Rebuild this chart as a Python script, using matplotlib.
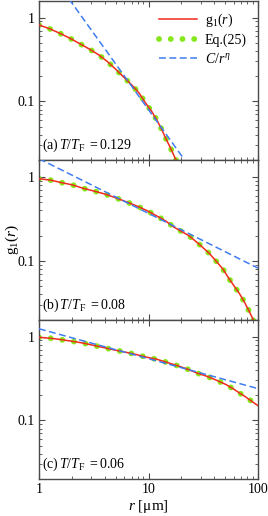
import numpy as np
import matplotlib
matplotlib.use("Agg")
import matplotlib.pyplot as plt
from matplotlib.ticker import LogLocator, NullFormatter

plt.rcParams['font.family'] = ['Liberation Serif', 'DejaVu Serif']
plt.rcParams['mathtext.fontset'] = 'custom'
plt.rcParams['mathtext.rm'] = 'Liberation Serif'
plt.rcParams['mathtext.it'] = 'Liberation Serif:italic'
plt.rcParams['mathtext.bf'] = 'Liberation Serif:bold'

# panel (a) T/TF = 0.129
r_a = [1.0, 1.26, 1.57, 1.92, 2.35, 2.86, 3.51, 4.21, 4.97, 5.89, 7.11, 8.24,
       9.35, 10.7, 12.0, 13.1, 14.4, 15.9, 17.7, 18.5]
g_a = [0.818, 0.733, 0.645, 0.567, 0.490, 0.424, 0.360, 0.299, 0.245, 0.197,
       0.155, 0.125, 0.0966, 0.0760, 0.0589, 0.0473, 0.0360, 0.0278, 0.0204, 0.0180]
C_a, eta_a, rmax_a = 5.27, 1.82, 20.5

# panel (b) T/TF = 0.08
r_b = [1.0, 1.28, 1.60, 2.0, 2.51, 3.13, 3.95, 4.84, 6.06, 7.74, 9.69, 11.96,
       14.5, 17.0, 23.4, 28.9, 35.9, 42.0, 47.9, 54.0, 61.6, 68.0, 75.0, 82.2,
       89.5, 92.0]
g_b = [0.957, 0.92, 0.86, 0.81, 0.738, 0.685, 0.631, 0.576, 0.516, 0.455,
       0.398, 0.343, 0.297, 0.254, 0.200, 0.159, 0.123, 0.0975, 0.0797, 0.0622,
       0.0486, 0.0404, 0.0324, 0.0258, 0.0205, 0.0185]
C_b, eta_b, rmax_b = 1.66, 0.653, 100

# panel (c) T/TF = 0.06
r_c = [1.0, 1.28, 1.6, 2.0, 2.5, 3.1, 3.8, 4.7, 5.9, 7.7, 9.6, 12.0, 14.4,
       18.7, 22.8, 28.3, 34.4, 42.2, 51.0, 60.4, 67.5, 76.1, 84.5, 92.5, 100]
g_c = [0.98, 0.955, 0.92, 0.88, 0.84, 0.79, 0.745, 0.70, 0.66, 0.612, 0.568,
       0.535, 0.497, 0.447, 0.408, 0.364, 0.335, 0.300, 0.268, 0.235, 0.213,
       0.193, 0.175, 0.161, 0.150]
C_c, eta_c, rmax_c = 1.24, 0.357, 100

panels = [("(a)", "0.129", r_a, g_a, C_a, eta_a, rmax_a),
          ("(b)", "0.08", r_b, g_b, C_b, eta_b, rmax_b),
          ("(c)", "0.06", r_c, g_c, C_c, eta_c, rmax_c)]

red = '#f02a1e'
green = '#86e81a'
blue = '#3f7cf0'
frame = '#4a4a4a'

fig = plt.figure(figsize=(2.68, 5.16), dpi=100)
left, right = 39 / 268, 258 / 268
top, bottom = 0.999, 1 - 479 / 516
h = (top - bottom) / 3

axes = []
for i, (lab, tt, r, g, C, eta, rmax) in enumerate(panels):
    ax = fig.add_axes([left, top - (i + 1) * h, right - left, h])
    axes.append(ax)
    ax.plot(r, g, color=green, lw=4.2, linestyle=(0, (0.01, 2.0)),
            dash_capstyle='round', zorder=2, label='Eq.(25)')
    ax.plot(r, g, color=red, lw=1.1, zorder=3, label=r'g$_1$($r$)')
    rr = np.array([1.0, rmax])
    ax.plot(rr, C / rr ** eta, color=blue, lw=1.1, linestyle=(0, (4.5, 2.3)),
            zorder=4, label=r'$C/r^\eta$')
    ax.set_xscale('log')
    ax.set_yscale('log')
    ax.set_xlim(1, 100)
    ax.set_ylim(0.02, 1.6)
    ax.set_yticks([0.1, 1])
    ax.set_yticklabels(['0.1', '1'])
    ax.yaxis.set_minor_locator(LogLocator(base=10, subs=np.arange(2, 10)))
    ax.yaxis.set_minor_formatter(NullFormatter())
    ax.set_xticks([1, 10, 100])
    ax.xaxis.set_minor_locator(LogLocator(base=10, subs=np.arange(2, 10)))
    ax.xaxis.set_minor_formatter(NullFormatter())
    if i < 2:
        ax.set_xticklabels([])
    else:
        ax.set_xticklabels(['1', '10', '100'])
    ax.tick_params(which='both', direction='in', top=True, right=True,
                   colors=frame, labelcolor='black', labelsize=10, pad=3)
    ax.tick_params(which='major', length=4, width=0.8)
    ax.tick_params(which='minor', length=2.2, width=0.6)
    for s in ax.spines.values():
        s.set_color(frame)
        s.set_linewidth(1.0)
    ax.text(0.012, 0.09, lab + r'$\,T/T_{\mathrm{F}}$ $=$' + tt,
            transform=ax.transAxes, fontsize=10, va='center', ha='left')

h_green, h_red, h_blue = axes[0].get_lines()
axes[0].legend([h_red, h_green, h_blue],
               [r'g$_1$($r$)', 'Eq.(25)', r'$C/r^\eta$'],
               loc='upper right', bbox_to_anchor=(1.0, 1.0), frameon=False,
               fontsize=10, handlelength=2.7, handletextpad=0.6,
               labelspacing=0.35, borderaxespad=0.4)

axes[2].set_xlabel(r'$r$ [μm]', fontsize=11, labelpad=1)
fig.text(12 / 268, 1 - 240 / 516, r'g$_1$($r$)', rotation=90, fontsize=11,
         ha='center', va='center')

fig.savefig('out.png', dpi=100)
